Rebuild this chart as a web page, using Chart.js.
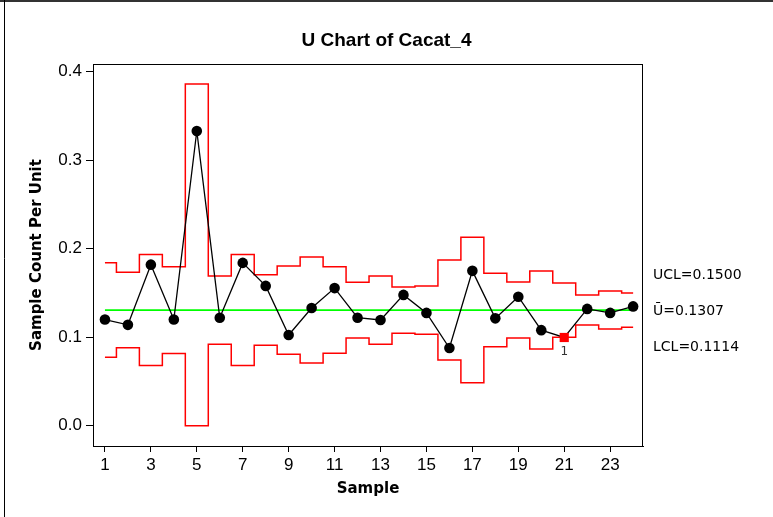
<!DOCTYPE html>
<html>
<head>
<meta charset="utf-8">
<script src="https://cdn.jsdelivr.net/npm/chart.js@4/dist/chart.umd.min.js"></script>
<style>
  html, body { margin: 0; padding: 0; background: #fff; }
  #wrap { position: relative; width: 773px; height: 517px; }
</style>
</head>
<body>
<div id="wrap"><canvas id="c"></canvas></div>
<script>
// Sample numbers (x axis)
const samples = [1,2,3,4,5,6,7,8,9,10,11,12,13,14,15,16,17,18,19,20,21,22,23,24];
// Defects per unit for each sample
const uValues = [0.120, 0.114, 0.182, 0.120, 0.333, 0.122, 0.184, 0.158, 0.1025, 0.133, 0.1555, 0.122,
                 0.1195, 0.1478, 0.1275, 0.0878, 0.175, 0.1213, 0.1458, 0.108, 0.0997, 0.132, 0.1275, 0.1348];
// Upper / lower control limits (vary with subgroup size)
const uclValues = [0.1841, 0.1733, 0.1934, 0.1797, 0.3861, 0.1692, 0.1934, 0.1706, 0.1805, 0.1906, 0.1795, 0.1622,
                   0.1692, 0.1568, 0.1580, 0.1872, 0.2129, 0.1722, 0.1624, 0.1748, 0.1614, 0.1477, 0.1522, 0.1500];
const lclValues = [0.0773, 0.0881, 0.0680, 0.0817, 0.0000, 0.0922, 0.0680, 0.0908, 0.0809, 0.0708, 0.0819, 0.0992,
                   0.0922, 0.1046, 0.1034, 0.0742, 0.0485, 0.0892, 0.0990, 0.0866, 0.1000, 0.1137, 0.1092, 0.1114];
// Centre line (U-bar)
const uBar = 0.1307;
// Axis tick values
const xTickValues = [1,3,5,7,9,11,13,15,17,19,21,23];
const yTickValues = [0.0, 0.1, 0.2, 0.3, 0.4];

const RED = '#ff0000';
const GREEN = '#00ff00';
const narrowFont = "'Liberation Sans Narrow', 'Arial Narrow', 'Liberation Sans', Arial, sans-serif";
const boldFont = "'DejaVu Sans', Verdana, sans-serif";

// Points outside their own limits are flagged (test 1)
const outOfControl = uValues.map((v, i) => v > uclValues[i] || v < lclValues[i]);

const toXY = arr => samples.map((s, i) => ({ x: s, y: arr[i] }));

const decorations = {
  id: 'decorations',
  afterDraw(chart) {
    const { ctx, chartArea: a } = chart;
    ctx.save();
    // outer frame edges
    ctx.strokeStyle = '#333';
    ctx.lineWidth = 2;
    ctx.beginPath(); ctx.moveTo(0, 1); ctx.lineTo(773, 1); ctx.stroke();
    ctx.strokeStyle = '#000';
    ctx.lineWidth = 1;
    ctx.beginPath(); ctx.moveTo(4.5, 0); ctx.lineTo(4.5, 517); ctx.stroke();
    // plot frame
    ctx.strokeStyle = '#000';
    ctx.lineWidth = 1;
    ctx.strokeRect(Math.round(a.left) + 0.5, Math.round(a.top) + 0.5,
                   Math.round(a.right - a.left) - 1, Math.round(a.bottom - a.top));
    // limit labels at the right
    const last = samples.length - 1;
    ctx.fillStyle = '#000';
    ctx.font = "14px " + boldFont;
    ctx.textAlign = 'left';
    ctx.textBaseline = 'middle';
    const lx = a.right + 10;
    ctx.fillText('UCL=' + uclValues[last].toFixed(4), lx, 275);
    ctx.fillText('\u016A=' + uBar.toFixed(4), lx, 311);
    ctx.fillText('LCL=' + lclValues[last].toFixed(4), lx, 347);
    // test-failure numbers beside flagged points
    const meta = chart.getDatasetMeta(0);
    ctx.fillStyle = '#333';
    ctx.font = "12px " + boldFont;
    ctx.textAlign = 'center';
    ctx.textBaseline = 'top';
    outOfControl.forEach((bad, i) => {
      if (!bad) return;
      const p = meta.data[i];
      ctx.fillText('1', p.x, p.y + 8);
    });
    ctx.restore();
  }
};

new Chart(document.getElementById('c'), {
  type: 'line',
  data: {
    datasets: [
      {
        label: 'U',
        data: toXY(uValues),
        borderColor: '#000',
        borderWidth: 1.3,
        pointRadius: outOfControl.map(b => b ? 6.5 : 5.3),
        pointStyle: outOfControl.map(b => b ? 'rect' : 'circle'),
        pointBackgroundColor: outOfControl.map(b => b ? RED : '#000'),
        pointBorderColor: outOfControl.map(b => b ? RED : '#000'),
        pointBorderWidth: 0,
        tension: 0
      },
      {
        label: 'UCL',
        data: toXY(uclValues),
        stepped: 'middle',
        borderColor: RED,
        borderWidth: 1.5,
        pointRadius: 0
      },
      {
        label: 'LCL',
        data: toXY(lclValues),
        stepped: 'middle',
        borderColor: RED,
        borderWidth: 1.5,
        pointRadius: 0
      },
      {
        label: 'U-bar',
        data: [{ x: samples[0], y: uBar }, { x: samples[samples.length - 1], y: uBar }],
        borderColor: GREEN,
        borderWidth: 1.8,
        pointRadius: 0
      }
    ]
  },
  options: {
    responsive: true,
    maintainAspectRatio: false,
    animation: false,
    devicePixelRatio: 1,
    layout: { padding: 0 },
    plugins: {
      legend: { display: false },
      tooltip: { enabled: false },
      title: {
        display: true,
        text: 'U Chart of Cacat_4',
        color: '#000',
        font: { family: narrowFont, size: 19, weight: 'bold', lineHeight: 1.2 },
        padding: { top: 29, bottom: 12.2 }
      }
    },
    scales: {
      x: {
        type: 'linear',
        min: 0.48,
        max: 24.43,
        afterBuildTicks: s => { s.ticks = xTickValues.map(v => ({ value: v })); },
        afterFit: s => { s.height = 71; },
        ticks: {
          color: '#000',
          font: { family: narrowFont, size: 17 },
          padding: 3,
          autoSkip: false,
          maxRotation: 0,
          callback: v => String(v)
        },
        grid: { drawOnChartArea: false, tickLength: 6, color: '#000', tickWidth: 1 },
        border: { color: '#000', width: 1 },
        title: {
          display: true,
          text: 'Sample',
          color: '#000',
          font: { family: boldFont, size: 15, weight: 'bold', lineHeight: 1.2 },
          padding: { top: 0, bottom: 19 }
        }
      },
      y: {
        type: 'linear',
        min: -0.0229,
        max: 0.4087,
        afterBuildTicks: s => { s.ticks = yTickValues.map(v => ({ value: v })); },
        afterFit: s => { s.width = 93; },
        ticks: {
          color: '#000',
          font: { family: narrowFont, size: 17 },
          padding: 4,
          callback: v => v.toFixed(1)
        },
        grid: { drawOnChartArea: false, tickLength: 7, color: '#000', tickWidth: 1 },
        border: { color: '#000', width: 1 },
        title: {
          display: true,
          text: 'Sample Count Per Unit',
          color: '#000',
          font: { family: boldFont, size: 15, weight: 'bold', lineHeight: 1.2 },
          padding: { top: 28, bottom: 0 }
        }
      },
      side: {
        type: 'linear',
        position: 'right',
        display: true,
        min: 0, max: 1,
        afterFit: s => { s.width = 130; },
        ticks: { display: false },
        grid: { display: false },
        border: { display: false }
      }
    }
  },
  plugins: [decorations]
});
</script>
</body>
</html>
